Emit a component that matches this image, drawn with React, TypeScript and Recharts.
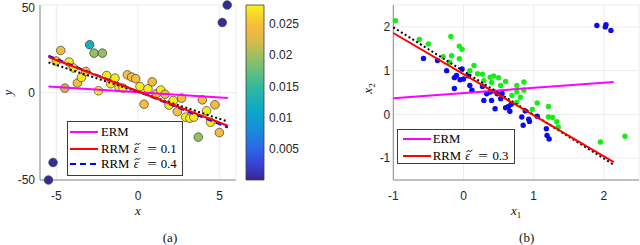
import React from 'react';
import {
  ScatterChart,
  Scatter,
  BarChart,
  Bar,
  XAxis,
  YAxis,
  CartesianGrid,
} from 'recharts';

// ---- panel (a): weighted regression points ----
const aX = [-5.48, -5.2, 5.46, 5.16, -4.73, -5.0, -4.22, -3.95, -4.48, -3.71, -3.46, -3.2, -2.96, -2.69, -2.18, -2.42, -1.92, -1.67, -1.41, -1.16, -0.92, -0.65, -0.39, -0.14, 0.12, 0.37, 0.61, 0.87, 1.12, 1.39, 1.65, 1.9, 2.16, 2.41, 2.67, 2.92, 3.18, 3.42, 3.69, 3.94, 4.2, 4.44, 4.71, 4.98];
const aY = [-50, -40, 50, 40, 24, 18, 17.4, 14, 2.5, 5.4, 8.6, 12, 27.3, 22.5, 22.5, 1, 9.7, 5, 8.2, 3, 2.5, 10.1, 8.8, 7.9, 3.4, -6.7, 2.1, 6.1, -0.7, 1.4, -1, -7.2, -4.6, -10.9, -3.2, -14.1, -14.7, -14.1, -25.5, -4.2, -10.5, -17, -7, -22.9];
const aW = [0.0004, 0.0005, 0.0004, 0.0005, 0.0245, 0.026, 0.0275, 0.0275, 0.022, 0.0245, 0.0275, 0.025, 0.0125, 0.0195, 0.0195, 0.0275, 0.0275, 0.0275, 0.0275, 0.0275, 0.0275, 0.0248, 0.0248, 0.0248, 0.0275, 0.0248, 0.0275, 0.0245, 0.025, 0.0275, 0.025, 0.0275, 0.0275, 0.025, 0.025, 0.0275, 0.0275, 0.0275, 0.0195, 0.0245, 0.0275, 0.0275, 0.0245, 0.0245];

const aLineX = [-5.48, 5.5];
const aErm = [3.4, -3.2];
const aRrm01 = [20.3, -19];
const aRrm04 = [21, -20];
const aTruth = [17.2, -16.6];

const aXTicks = [-5, 0, 5];
const aYTicks = [-50, 0, 50];
const cbTicks = [0.005, 0.01, 0.015, 0.02, 0.025];
const cbMax = 0.028;

// ---- panel (b): two classes ----
const gX = [-0.97, -0.63, -0.5, -0.18, -0.29, -0.17, -0.2, -0.06, -0.02, -0.06, 0.09, 0.15, 0.2, 0.27, 0.29, 0.38, 0.43, 0.5, 0.4, 0.53, 0.6, 0.43, 0.76, 0.86, 0.76, 0.69, 0.86, 0.81, 0.76, 1.05, 0.98, 1.21, 1.21, 1.27, 1.33, 1.35, 1.95, 2.3];
const gY = [2.14, 1.71, 1.61, 1.78, 1.32, 1.34, 1.19, 1.56, 1.49, 1.27, 1.0, 1.12, 0.93, 0.92, 0.77, 0.85, 0.88, 0.84, 0.73, 0.66, 0.75, 0.53, 0.66, 0.74, 0.51, 0.43, 0.55, 0.39, 0.28, 0.26, 0.11, 0.18, -0.06, -0.07, -0.17, -0.29, -0.63, -0.5];
const bX = [-0.57, -0.37, -0.24, -0.1, -0.05, -0.02, 0.0, -0.13, -0.13, 0.07, 0.09, 0.12, 0.27, 0.29, 0.33, 0.38, 0.4, 0.45, 0.48, 0.53, 0.55, 0.6, 0.64, 0.66, 0.68, 0.83, 0.85, 0.88, 0.93, 0.94, 1.05, 1.18, 1.19, 1.22, 1.9, 2.03, 2.02, 2.1];
const bY = [1.28, 1.23, 1.0, 0.89, 0.79, 1.04, 0.81, 0.84, 0.59, 0.88, 0.66, 0.55, 0.64, 0.32, 0.47, 0.51, 0.32, 0.13, 0.47, 0.36, 0.48, 0.15, 0.18, 0.07, 0.23, -0.06, -0.25, 0.08, -0.11, -0.16, -0.04, -0.33, -0.48, -0.56, 2.03, 2.05, 2.0, 1.92];

const bLineX = [-1, 2.14];
const bErm = [0.37, 0.74];
const bRrm = [1.86, -1.09];
const bTruth = [1.99, -1.15];

const bXTicks = [-1, 0, 1, 2];
const bYTicks = [-1, 0, 1, 2];

// parula-like colormap
const PARULA: [number, string][] = [
  [0.0, '#33288a'],
  [0.08, '#3a3fcf'],
  [0.18, '#2c68e6'],
  [0.3, '#1591d8'],
  [0.4, '#0ca8c6'],
  [0.52, '#2fb7a3'],
  [0.62, '#64bf7e'],
  [0.71, '#9cc15f'],
  [0.8, '#ddb94a'],
  [0.88, '#f6bc3c'],
  [0.94, '#f7d52b'],
  [1.0, '#f8f416'],
];

function hexToRgb(h: string) {
  return [1, 3, 5].map((i) => parseInt(h.slice(i, i + 2), 16));
}

function parula(v: number) {
  const t = Math.max(0, Math.min(1, v / cbMax));
  for (let i = 1; i < PARULA.length; i++) {
    if (t <= PARULA[i][0]) {
      const [t0, c0] = PARULA[i - 1];
      const [t1, c1] = PARULA[i];
      const f = (t - t0) / (t1 - t0);
      const a = hexToRgb(c0);
      const b = hexToRgb(c1);
      const c = a.map((x, k) => Math.round(x + (b[k] - x) * f));
      return `rgb(${c[0]},${c[1]},${c[2]})`;
    }
  }
  return PARULA[PARULA.length - 1][1];
}

const toPts = (xs: number[], ys: number[]) => xs.map((x, i) => ({ x, y: ys[i] }));

const aPoints = aX.map((x, i) => ({ x, y: aY[i], w: aW[i] }));
const greenPts = toPts(gX, gY);
const bluePts = toPts(bX, bY);

const SANS = '"Liberation Sans", Arial, sans-serif';
const SERIF = '"Liberation Serif", "Times New Roman", serif';
const AXIS = '#8a8a8a';
const tickStyle = { fontSize: 12, fill: '#262626', fontFamily: SANS };

const noShape = () => <g />;

function WeightedDot(props: any) {
  return (
    <circle cx={props.cx} cy={props.cy} r={4.3} fill={parula(props.payload.w)} stroke="#3a3a3a" strokeWidth={0.7} />
  );
}

function XLabelA({ viewBox }: any) {
  return (
    <g fontFamily={SERIF} fill="#111">
      <text x={viewBox.x + viewBox.width / 2} y={viewBox.y + 35} textAnchor="middle" fontSize={13} fontStyle="italic">x</text>
      <text x={170} y={242} textAnchor="middle" fontSize={13}>(a)</text>
    </g>
  );
}

function YLabelA({ viewBox }: any) {
  const cy = viewBox.y + viewBox.height / 2;
  return (
    <text x={12} y={cy} transform={`rotate(-90, 12, ${cy})`} textAnchor="middle" fontFamily={SERIF} fontSize={13} fontStyle="italic" fill="#111">y</text>
  );
}

function XLabelB({ viewBox }: any) {
  return (
    <g fontFamily={SERIF} fill="#111">
      <text x={viewBox.x + viewBox.width / 2} y={viewBox.y + 35} textAnchor="middle" fontSize={13}>
        <tspan fontStyle="italic">x</tspan>
        <tspan fontSize={9} dy={3}>1</tspan>
      </text>
      <text x={206.7} y={242} textAnchor="middle" fontSize={13}>(b)</text>
    </g>
  );
}

function YLabelB({ viewBox }: any) {
  const cy = viewBox.y + viewBox.height / 2 - 4;
  return (
    <text x={51.7} y={cy} transform={`rotate(-90, 51.7, ${cy})`} textAnchor="middle" fontFamily={SERIF} fontSize={13} fill="#111">
      <tspan fontStyle="italic">x</tspan>
      <tspan fontSize={9} dy={3}>2</tspan>
    </text>
  );
}

type Entry = { label: React.ReactNode; color: string; dash?: string };

function LegendBox({ left, top, width, height, rows, lineX, textX, rowY }: {
  left: number; top: number; width: number; height: number; rows: Entry[]; lineX: number; textX: number; rowY: number[];
}) {
  return (
    <div
      style={{
        position: 'absolute', left, top, width, height, boxSizing: 'border-box',
        border: '0.8px solid #3c3c3c', background: '#fff', fontFamily: SERIF, fontSize: 12.8, color: '#000',
      }}
    >
      {rows.map((r, i) => (
        <div key={i} style={{ position: 'absolute', left: 0, top: rowY[i] - 8, height: 16, width: '100%' }}>
          <svg width={28} height={16} style={{ position: 'absolute', left: lineX, top: 0 }}>
            <line x1={0} y1={8} x2={28} y2={8} stroke={r.color} strokeWidth={2} strokeDasharray={r.dash} />
          </svg>
          <span style={{ position: 'absolute', left: textX, top: 0, lineHeight: '16px', whiteSpace: 'nowrap' }}>{r.label}</span>
        </div>
      ))}
    </div>
  );
}

// RRM \tilde{\epsilon} = v  (tilde accent drawn as a small stroke)
const eps = (v: string) => (
  <>
    RRM{' '}
    <span style={{ position: 'relative', display: 'inline-block', fontStyle: 'italic', marginLeft: 1 }}>
      ε
      <svg width={7} height={4} style={{ position: 'absolute', left: 0.5, top: 1 }}>
        <path d="M0.6 3.2 Q1.8 0.6 3.4 2 T6.4 0.8" fill="none" stroke="#000" strokeWidth={0.9} />
      </svg>
    </span>
    <span style={{ display: 'inline-block', width: 10, textAlign: 'center', margin: '0 4px 0 8px', transform: 'scaleX(1.35)' }}>=</span>
    {v}
  </>
);

export default function App() {
  return (
    <div style={{ position: 'absolute', left: 0, top: 0, width: 640, height: 245, background: '#fff', overflow: 'hidden' }}>
      {/* panel (a) */}
      <div style={{ position: 'absolute', left: 0, top: 0 }}>
        <ScatterChart width={320} height={245} margin={{ top: 5, right: 84, left: 10, bottom: 45 }}>
          <CartesianGrid stroke="#ececec" />
          <XAxis
            type="number" dataKey="x" domain={[-6, 6]} ticks={aXTicks}
            height={20} tickSize={0} tickMargin={11} tick={tickStyle} stroke={AXIS}
            label={<XLabelA />}
          />
          <YAxis
            type="number" dataKey="y" domain={[-50, 50]} ticks={aYTicks}
            width={30} tickSize={0} tickMargin={5} tick={tickStyle} stroke={AXIS}
            label={<YLabelA />}
          />
          <Scatter data={aPoints} shape={<WeightedDot />} isAnimationActive={false} />
          <Scatter data={toPts(aLineX, aErm)} shape={noShape} line={{ stroke: '#ff00ff', strokeWidth: 2 }} isAnimationActive={false} />
          <Scatter data={toPts(aLineX, aTruth)} shape={noShape} line={{ stroke: '#000', strokeWidth: 2, strokeDasharray: '2 2.5' }} isAnimationActive={false} />
          <Scatter data={toPts(aLineX, aRrm04)} shape={noShape} line={{ stroke: '#0000ff', strokeWidth: 2, strokeDasharray: '6 4' }} isAnimationActive={false} />
          <Scatter data={toPts(aLineX, aRrm01)} shape={noShape} line={{ stroke: '#ff0000', strokeWidth: 2 }} isAnimationActive={false} />
        </ScatterChart>
      </div>

      {/* colorbar */}
      <div style={{ position: 'absolute', left: 0, top: 0 }}>
        <BarChart width={320} height={245} data={[{ name: 'cb', v: cbMax }]} margin={{ top: 5, right: 0, left: 246, bottom: 65 }} barCategoryGap={0}>
          <defs>
            <linearGradient id="parulaGrad" x1="0" y1="1" x2="0" y2="0">
              {PARULA.map(([t, c]) => (
                <stop key={t} offset={`${t * 100}%`} stopColor={c} />
              ))}
            </linearGradient>
          </defs>
          <XAxis dataKey="name" hide />
          <YAxis
            orientation="right" domain={[0, cbMax]} ticks={cbTicks} width={56}
            tickSize={0} tickMargin={5} axisLine={false} tick={tickStyle} tickFormatter={(v: number) => String(v)}
          />
          <Bar dataKey="v" fill="url(#parulaGrad)" stroke="#3c3c3c" strokeWidth={0.8} isAnimationActive={false} />
        </BarChart>
      </div>

      <LegendBox
        left={66.7} top={120.7} width={116.6} height={55.3} lineX={2.6} textX={33.3} rowY={[10, 27, 42.6]}
        rows={[
          { label: 'ERM', color: '#ff00ff' },
          { label: eps('0.1'), color: '#ff0000' },
          { label: eps('0.4'), color: '#0000ff', dash: '6 4' },
        ]}
      />

      {/* panel (b) */}
      <div style={{ position: 'absolute', left: 320, top: 0 }}>
        <ScatterChart width={320} height={245} margin={{ top: 5, right: 1, left: 43.3, bottom: 45 }}>
          <CartesianGrid stroke="#ececec" />
          <XAxis
            type="number" dataKey="x" domain={[-1, 2.5]} ticks={bXTicks}
            height={20} tickSize={0} tickMargin={11} tick={tickStyle} stroke={AXIS}
            label={<XLabelB />}
          />
          <YAxis
            type="number" dataKey="y" domain={[-1.5, 2.5]} ticks={bYTicks}
            width={30} tickSize={0} tickMargin={3} tick={tickStyle} stroke={AXIS}
            label={<YLabelB />}
          />
          <Scatter data={greenPts} isAnimationActive={false}
            shape={(p: any) => <circle cx={p.cx} cy={p.cy} r={2.7} fill="#14ee14" />} />
          <Scatter data={bluePts} isAnimationActive={false}
            shape={(p: any) => <circle cx={p.cx} cy={p.cy} r={2.7} fill="#0a0aee" />} />
          <Scatter data={toPts(bLineX, bErm)} shape={noShape} line={{ stroke: '#ff00ff', strokeWidth: 2 }} isAnimationActive={false} />
          <Scatter data={toPts(bLineX, bTruth)} shape={noShape} line={{ stroke: '#000', strokeWidth: 2, strokeDasharray: '2 2.5' }} isAnimationActive={false} />
          <Scatter data={toPts(bLineX, bRrm)} shape={noShape} line={{ stroke: '#ff0000', strokeWidth: 2 }} isAnimationActive={false} />
        </ScatterChart>
      </div>

      <LegendBox
        left={396.7} top={129.3} width={118.3} height={34.7} lineX={5} textX={35} rowY={[9, 25.7]}
        rows={[
          { label: 'ERM', color: '#ff00ff' },
          { label: eps('0.3'), color: '#ff0000' },
        ]}
      />
    </div>
  );
}
